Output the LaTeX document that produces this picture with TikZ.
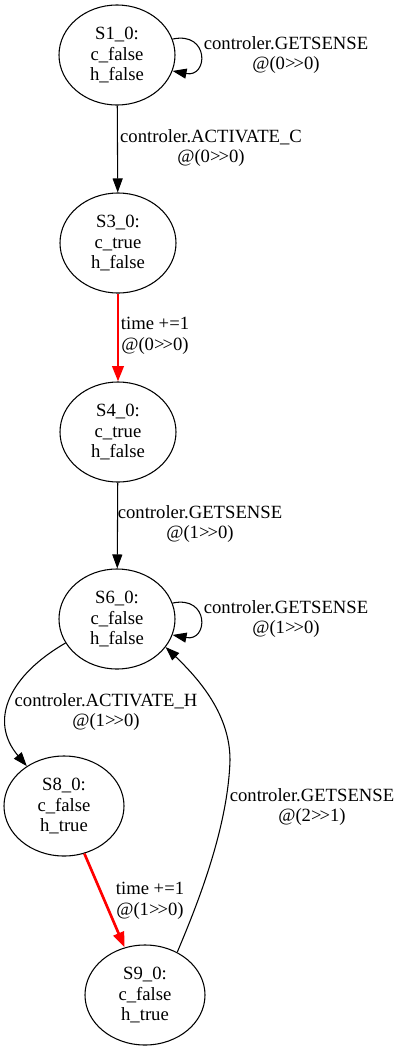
\documentclass[tikz,border=0pt]{standalone}
\usepackage{fontspec}
\setmainfont{Liberation Serif}
\usetikzlibrary{arrows.meta,shapes.geometric}

\newcommand{\shiftto}{>\kern-1.5pt>}
\tikzset{
  state/.style={draw,ellipse,line width=0.8pt,minimum width=87pt,minimum height=75pt,inner sep=0pt,align=center},
  trans/.style={line width=0.8pt,-{Triangle[length=10.5pt,width=7.5pt]}},
  clock/.style={red,line width=2pt,-{Triangle[length=11.5pt,width=8.5pt]}},
  lbl/.style={align=center,inner sep=0pt},
}

\begin{document}
\begin{tikzpicture}[x=0.75pt,y=-0.75pt,every node/.style={font=\fontsize{14}{15.4}\selectfont}]
  \useasboundingbox (0,0) rectangle (406,1050);
  % states
  \node[state] (S1) at (117,55) {S1\_0:\\c\_false\\h\_false};
  \node[state] (S3) at (118,243) {S3\_0:\\c\_true\\h\_false};
  \node[state] (S4) at (118,432) {S4\_0:\\c\_true\\h\_false};
  \node[state] (S6) at (117,619) {S6\_0:\\c\_false\\h\_false};
  \node[state,minimum width=90pt] (S8) at (64,806) {S8\_0:\\c\_false\\h\_true};
  \node[state,minimum width=90pt] (S9) at (145,995) {S9\_0:\\c\_false\\h\_true};
  % transitions
  \draw[trans] (S1.16) .. controls +(37,-8) and +(36,7) .. (S1.-16);
  \draw[trans] (S1) -- (S3);
  \draw[clock] (S3) -- (S4);
  \draw[trans] (S4) -- (S6);
  \draw[trans] (S6.16) .. controls +(37,-8) and +(36,7) .. (S6.-16);
  \draw[trans] (S6.205) .. controls (10,675) and (-12,720) .. (S8.133);
  \draw[clock] (S8) -- (S9);
  \draw[trans] (S9.53) .. controls (195,910) and (228,830) .. (230,760)
    .. controls (230,715) and (200,680) .. (S6.-30);
  % labels
  \node[lbl] (l11) at (286,55) {controler.GETSENSE\\@(0\shiftto0)};
  \node[lbl] (l13) at (211,148) {controler.ACTIVATE\_C\\@(0\shiftto0)};
  \node[lbl] (l34) at (155,336) {time +=1\\@(0\shiftto0)};
  \node[lbl] (l46) at (200,524) {controler.GETSENSE\\@(1\shiftto0)};
  \node[lbl] (l66) at (286,619) {controler.GETSENSE\\@(1\shiftto0)};
  \node[lbl] (l68) at (106,712) {controler.ACTIVATE\_H\\@(1\shiftto0)};
  \node[lbl] (l89) at (150,901) {time +=1\\@(1\shiftto0)};
  \node[lbl] (l96) at (312,807) {controler.GETSENSE\\@(2\shiftto1)};
\end{tikzpicture}
\end{document}
